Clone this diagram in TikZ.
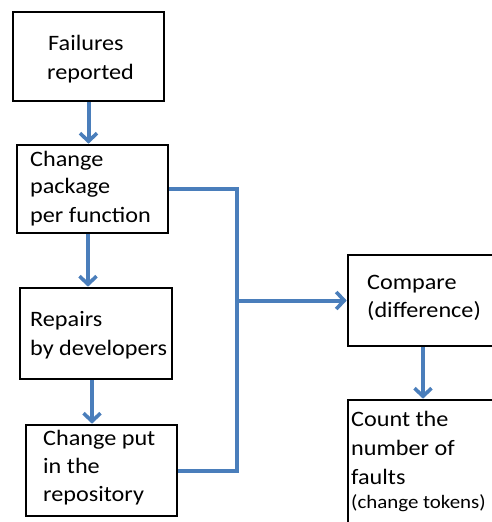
\documentclass[tikz,border=0pt]{standalone}
\usepackage{fontspec}
\setmainfont{Carlito}[FakeStretch=1.1]
\usetikzlibrary{arrows.meta}
\definecolor{flowblue}{HTML}{4A7EBB}
\tikzset{
  box/.style={draw=black, line width=2.6pt, fill=white, inner sep=0pt},
  conn/.style={draw=flowblue, line width=4pt},
  arr/.style={conn, -{Straight Barb[length=8pt,width=17pt,line width=3.6pt]}},
  txt/.style={anchor=base west, inner sep=0pt, font=\fontsize{22}{28}\selectfont},
  small/.style={anchor=base west, inner sep=0pt, font=\fontsize{19}{22}\selectfont}
}
\begin{document}
\begin{tikzpicture}[x=1pt,y=-1pt]
\useasboundingbox (0,0) rectangle (492,522);
\clip (0,0) rectangle (492,522);
\fill[white] (0,0) rectangle (492,522);
% boxes
\node[box, minimum width=151pt, minimum height=89pt] (b1) at (88.5,56.5) {};
\node[box, minimum width=151pt, minimum height=88pt] (b2) at (92.5,189) {};
\node[box, minimum width=152pt, minimum height=91pt] (b3) at (96,333.5) {};
\node[box, minimum width=151pt, minimum height=91pt] (b4) at (101.5,470.5) {};
\node[box, minimum width=150pt, minimum height=91pt] (b5) at (423,300.5) {};
\node[box, minimum width=150pt, minimum height=130pt] (b6) at (423,465) {};
% texts
\node[txt] (t1a) at (48,50) {Failures};
\node[txt] (t1b) at (47,79) {reported};
\node[txt] (t2a) at (30,166) {Change};
\node[txt] (t2b) at (30,193.5) {package};
\node[txt] (t2c) at (30,222) {per function};
\node[txt] (t3a) at (30,326.5) {Repairs};
\node[txt] (t3b) at (30,355) {by developers};
\node[txt] (t4a) at (43,445) {Change put};
\node[txt] (t4b) at (43,473) {in the};
\node[txt] (t4c) at (43,501.5) {repository};
\node[txt] (t5a) at (367,289) {Compare};
\node[txt] (t5b) at (367,317.5) {(difference)};
\node[txt] (t6a) at (351,426.5) {Count the};
\node[txt] (t6b) at (351,455) {number of};
\node[txt] (t6c) at (351,484) {faults};
\node[small] (t6d) at (351,508) {(change tokens)};
% connectors
\coordinate (bend) at (237,470.5);
\coordinate (j) at (237,300.5);
\draw[conn] (b2.east) -| (bend) -- (b4.east);
\draw[arr] (j) -- (b5.west);
\draw[arr] (b1.south) -- (b1.south |- b2.north);
\draw[arr] ([xshift=-4.5pt]b2.south) -- ([xshift=-4.5pt]b2.south |- b3.north);
\draw[arr] ([xshift=-4pt]b3.south) -- ([xshift=-4pt]b3.south |- b4.north);
\draw[arr] (b5.south) -- (b5.south |- b6.north);
\end{tikzpicture}
\end{document}
